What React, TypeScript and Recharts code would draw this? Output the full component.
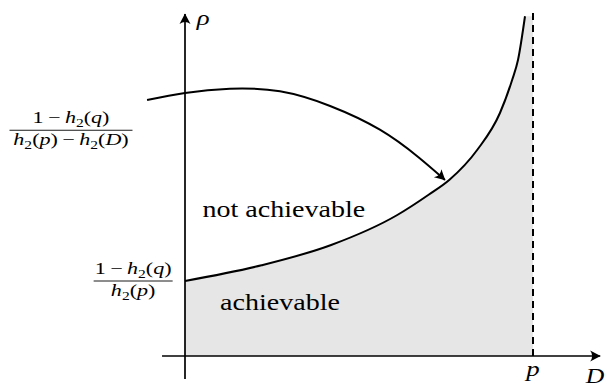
import React from 'react';
import {
  ComposedChart,
  Line,
  Area,
  XAxis,
  YAxis,
  ReferenceLine,
  ReferenceDot,
} from 'recharts';

// Boundary of the achievable region: rate rho as a function of distortion D (p = 1)
const boundaryD = [0, 0.22, 0.42, 0.61, 0.7, 0.76, 0.84, 0.905, 0.94, 0.957, 0.977];
const boundaryRho = [1.0, 1.21, 1.48, 1.88, 2.15, 2.35, 2.75, 3.24, 3.68, 3.95, 4.53];

// Curved annotation arrow pointing at the boundary
const arrowD = [-0.109, 0, 0.129, 0.273, 0.417, 0.56, 0.67, 0.747];
const arrowRho = [3.413, 3.507, 3.564, 3.529, 3.333, 3.017, 2.653, 2.347];

// Key values on the axes
const pValue = 1;
const rhoAtOrigin = 1; // (1 - h2(q)) / h2(p)
const rhoUpperLabel = 3.01; // (1 - h2(q)) / (h2(p) - h2(D))

// Axis extents (arrow tips)
const xAxisFrom = -0.066;
const xAxisTo = 1.193;
const yAxisFrom = -0.307;
const yAxisTo = 4.56;

const boundaryData = boundaryD.map((d, i) => ({ D: d, rho: boundaryRho[i] }));
const regionData = [
  ...boundaryData,
  { D: pValue, rho: boundaryRho[boundaryRho.length - 1] },
];
const arrowData = arrowD.map((d, i) => ({ D: d, rho: arrowRho[i] }));
const arrowTip = arrowData[arrowData.length - 1];

const SERIF = "'Liberation Serif', 'DejaVu Serif', serif";
const STRETCH = 1.22;
const FRAC_STRETCH = 1.3;

const W = 608;
const H = 387;

type VB = { viewBox?: { x: number; y: number } };

const textStyle = (fs: number, italic = false): React.CSSProperties => ({
  fontFamily: SERIF,
  fontSize: fs,
  fontStyle: italic ? 'italic' : 'normal',
});

const MINUS = '\u2009\u2212\u2009';

function H2({ arg, fs }: { arg: string; fs: number }) {
  const sub = Math.round(fs * 0.7);
  const d = Math.round(fs * 0.25);
  return (
    <>
      <tspan style={textStyle(fs, true)}>h</tspan>
      <tspan style={textStyle(sub)} dy={d}>2</tspan>
      <tspan style={textStyle(fs)} dy={-d}>(</tspan>
      <tspan style={textStyle(fs, true)}>{arg}</tspan>
      <tspan style={textStyle(fs)}>)</tspan>
    </>
  );
}

function Fraction({
  viewBox,
  den,
  barWidth,
  fs,
}: VB & { den: 'p' | 'pD'; barWidth: number; fs: number }) {
  if (!viewBox) return null;
  const { x, y } = viewBox;
  return (
    <g fill="#000">
      <text
        transform={`translate(${x},${y - 7}) scale(${FRAC_STRETCH},1)`}
        textAnchor="middle"
        style={textStyle(fs)}
      >
        <tspan style={textStyle(fs)}>1{MINUS}</tspan>
        <H2 arg="q" fs={fs} />
      </text>
      <line
        x1={x - barWidth / 2}
        x2={x + barWidth / 2}
        y1={y}
        y2={y}
        stroke="#000"
        strokeWidth={0.9}
      />
      <text
        transform={`translate(${x},${y + 15}) scale(${FRAC_STRETCH},1)`}
        textAnchor="middle"
        style={textStyle(fs)}
      >
        <H2 arg="p" fs={fs} />
        {den === 'pD' ? (
          <>
            <tspan style={textStyle(fs)}>{MINUS}</tspan>
            <H2 arg="D" fs={fs} />
          </>
        ) : null}
      </text>
    </g>
  );
}

function Word({
  viewBox,
  text,
  fs,
  italic,
}: VB & { text: string; fs: number; italic?: boolean }) {
  if (!viewBox) return null;
  return (
    <text
      transform={`translate(${viewBox.x},${viewBox.y}) scale(${STRETCH},1)`}
      textAnchor="middle"
      dominantBaseline="central"
      style={textStyle(fs, !!italic)}
      fill="#000"
    >
      {text}
    </text>
  );
}

function ArrowHead({ cx, cy, angle }: { cx?: number; cy?: number; angle: number }) {
  if (cx == null || cy == null) return null;
  return (
    <path
      transform={`translate(${cx},${cy}) rotate(${angle})`}
      d="M0.5,0 L-10,-5.5 Q-6,0 -10,5.5 Z"
      fill="#000"
    />
  );
}

export default function App() {
  return (
    <div style={{ position: 'absolute', left: 0, top: 0, background: '#fff' }}>
      <ComposedChart
        width={W}
        height={H}
        margin={{ top: 0, right: 0, bottom: 0, left: 0 }}
      >
        <defs>
          <marker
            id="tip"
            viewBox="-11 -6 12 12"
            refX={0}
            refY={0}
            markerWidth={12}
            markerHeight={12}
            markerUnits="userSpaceOnUse"
            orient="auto"
          >
            <path d="M0.5,0 L-10,-5.5 Q-6,0 -10,5.5 Z" fill="#000" />
          </marker>
        </defs>
        <XAxis
          type="number"
          dataKey="D"
          domain={[-0.5316, 1.2155]}
          allowDataOverflow
          hide
        />
        <YAxis
          type="number"
          dataKey="rho"
          domain={[-0.4133, 4.7467]}
          allowDataOverflow
          hide
        />

        <Area
          data={regionData}
          dataKey="rho"
          type="monotone"
          baseValue={0}
          fill="#e6e6e6"
          fillOpacity={1}
          stroke="none"
          dot={false}
          activeDot={false}
          isAnimationActive={false}
        />

        <ReferenceLine
          segment={[
            { x: pValue, y: 0 },
            { x: pValue, y: yAxisTo + 0.02 },
          ]}
          stroke="#000"
          strokeWidth={2}
          strokeDasharray="7 5"
        />

        <ReferenceLine
          segment={[
            { x: xAxisFrom, y: 0 },
            { x: xAxisTo, y: 0 },
          ]}
          stroke="#000"
          strokeWidth={1.7}
          markerEnd="url(#tip)"
        />
        <ReferenceLine
          segment={[
            { x: 0, y: yAxisFrom },
            { x: 0, y: yAxisTo },
          ]}
          stroke="#000"
          strokeWidth={1.7}
          markerEnd="url(#tip)"
        />

        <Line
          data={boundaryData}
          dataKey="rho"
          type="monotone"
          stroke="#000"
          strokeWidth={2}
          dot={false}
          activeDot={false}
          isAnimationActive={false}
        />
        <Line
          data={arrowData}
          dataKey="rho"
          type="natural"
          stroke="#000"
          strokeWidth={2}
          dot={false}
          activeDot={false}
          isAnimationActive={false}
        />
        <ReferenceDot
          x={arrowTip.D}
          y={arrowTip.rho}
          r={1}
          shape={(props: any) => <ArrowHead cx={props.cx} cy={props.cy} angle={43} />}
        />

        <ReferenceDot
          x={-0.3276}
          y={rhoUpperLabel}
          r={0}
          fill="none"
          stroke="none"
          label={<Fraction den="pD" barWidth={123} fs={17} />}
        />
        <ReferenceDot
          x={-0.149}
          y={rhoAtOrigin}
          r={0}
          fill="none"
          stroke="none"
          label={<Fraction den="p" barWidth={79} fs={17} />}
        />
        <ReferenceDot
          x={0.284}
          y={1.95}
          r={0}
          fill="none"
          stroke="none"
          label={<Word text="not achievable" fs={23} />}
        />
        <ReferenceDot
          x={0.273}
          y={0.72}
          r={0}
          fill="none"
          stroke="none"
          label={<Word text="achievable" fs={23} />}
        />
        <ReferenceDot
          x={0.052}
          y={4.52}
          r={0}
          fill="none"
          stroke="none"
          label={<Word text="ρ" fs={22} italic />}
        />
        <ReferenceDot
          x={pValue}
          y={-0.17}
          r={0}
          fill="none"
          stroke="none"
          label={<Word text="p" fs={22} italic />}
        />
        <ReferenceDot
          x={1.178}
          y={-0.27}
          r={0}
          fill="none"
          stroke="none"
          label={<Word text="D" fs={21} italic />}
        />
      </ComposedChart>
    </div>
  );
}
